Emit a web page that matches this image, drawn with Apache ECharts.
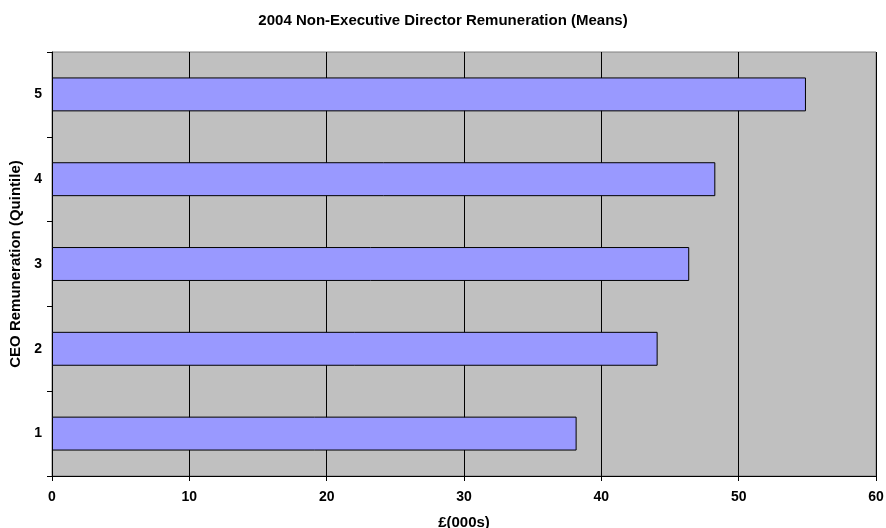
<!DOCTYPE html>
<html>
<head>
<meta charset="utf-8">
<script src="https://cdn.jsdelivr.net/npm/echarts@6/dist/echarts.min.js"></script>
<style>html,body{margin:0;padding:0;background:#fff;}#c{width:886px;height:528px;}</style>
</head>
<body>
<div id="c"></div>
<script>
const titleText = '2004 Non-Executive Director Remuneration (Means)';
const categories = ['1', '2', '3', '4', '5'];
const values = [38.2, 44.1, 46.4, 48.3, 54.9];
const xTicks = [0, 10, 20, 30, 40, 50, 60];
const xName = '£(000s)';
const yName = 'CEO Remuneration (Quintile)';

const font = 'Liberation Sans, Arial, sans-serif';
const chart = echarts.init(document.getElementById('c'), null, {renderer: 'canvas'});
chart.setOption({
  animation: false,
  backgroundColor: '#ffffff',
  title: {
    text: titleText, left: 'center', top: 8,
    textStyle: {fontFamily: font, fontSize: 15, fontWeight: 'bold', color: '#000'}
  },
  grid: {
    left: 52, right: 10, top: 52, bottom: 52,
    containLabel: false, outerBoundsMode: 'none',
    show: true, backgroundColor: '#C0C0C0', borderColor: '#808080', borderWidth: 1
  },
  xAxis: {
    type: 'value', min: xTicks[0], max: xTicks[xTicks.length - 1], interval: 10,
    name: xName, nameLocation: 'middle', nameGap: 39,
    nameTextStyle: {fontFamily: font, fontSize: 15, fontWeight: 'bold', color: '#000'},
    axisLine: {show: true, lineStyle: {color: '#000', width: 1}},
    axisTick: {show: true, length: 5, lineStyle: {color: '#000'}},
    axisLabel: {fontFamily: font, fontSize: 14, fontWeight: 'bold', color: '#000', margin: 14},
    splitLine: {show: true, lineStyle: {color: '#000', width: 1}}
  },
  yAxis: {
    type: 'category', data: categories,
    name: yName, nameLocation: 'middle', nameGap: 25, nameRotate: 90,
    nameTextStyle: {fontFamily: font, fontSize: 15, fontWeight: 'bold', color: '#000'},
    axisLine: {show: true, lineStyle: {color: '#000', width: 1}},
    axisTick: {show: true, length: 5, alignWithLabel: false, lineStyle: {color: '#000'}},
    axisLabel: {fontFamily: font, fontSize: 14, fontWeight: 'bold', color: '#000', margin: 10},
    splitLine: {show: false}
  },
  series: [{
    type: 'bar', data: values, barCategoryGap: '60%',
    itemStyle: {color: '#9999FF', borderColor: '#000', borderWidth: 1}
  }]
});
</script>
</body>
</html>
